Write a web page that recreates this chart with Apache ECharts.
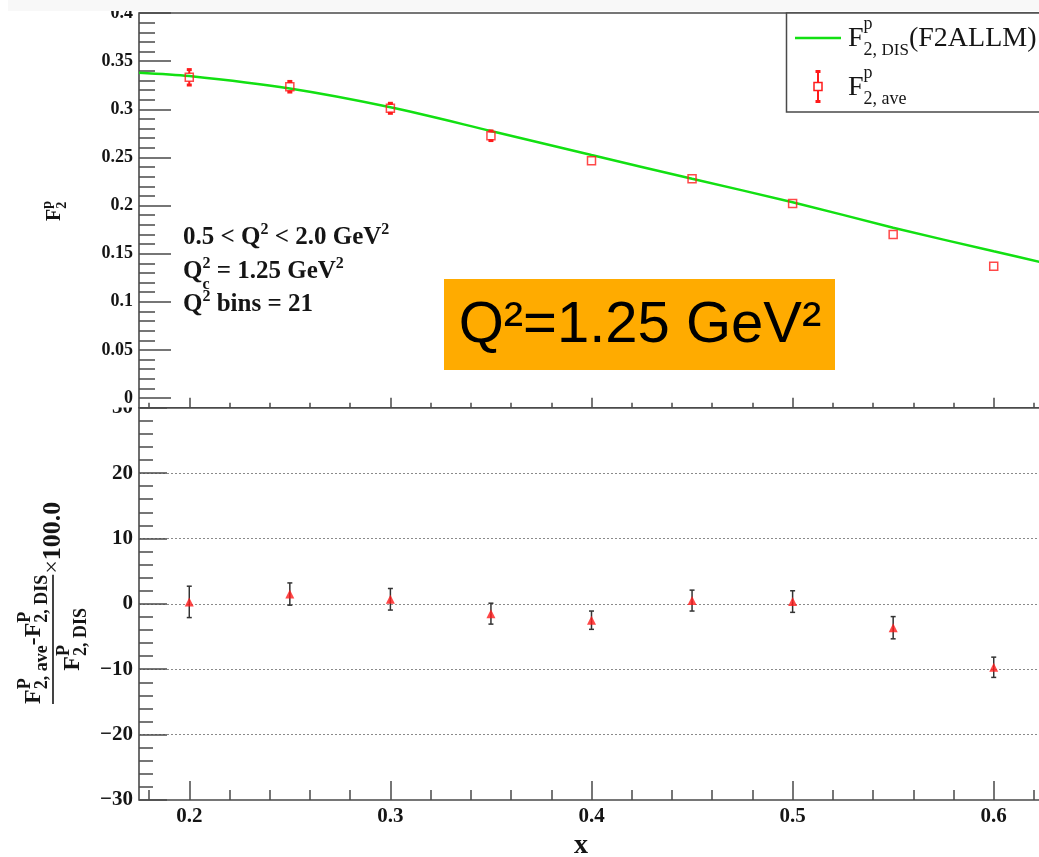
<!DOCTYPE html>
<html>
<head>
<meta charset="utf-8">
<script src="https://cdn.jsdelivr.net/npm/echarts@6/dist/echarts.min.js"></script>
<style>
  html, body { margin: 0; padding: 0; background: #fff; }
  #chart { width: 1039px; height: 857px; }
</style>
</head>
<body>
<div id="chart"></div>
<script>
// x positions of the averaged structure-function points
const xPoints = [0.2, 0.25, 0.3, 0.35, 0.4, 0.45, 0.5, 0.55, 0.6];
// averaged F2^p and its uncertainty
const f2Ave    = [0.3332, 0.3234, 0.3010, 0.2725, 0.2466, 0.2278, 0.2022, 0.1700, 0.1370];
const f2AveErr = [0.0080, 0.0055, 0.0052, 0.0050, 0.0035, 0.0036, 0.0033, 0.0029, 0.0021];
// F2ALLM model curve
const allmX  = [0.175, 0.2, 0.25, 0.3, 0.35, 0.4, 0.45, 0.5, 0.55, 0.6, 0.625];
const allmF2 = [0.338, 0.3345, 0.3215, 0.302, 0.2775, 0.2525, 0.2278, 0.2035, 0.177, 0.1525, 0.1405];
// relative difference (ave - DIS)/DIS x 100 and its uncertainty
const ratioPct = [0.3, 1.5, 0.7, -1.5, -2.5, 0.5, 0.35, -3.65, -9.7];
const ratioErr = [2.4, 1.7, 1.65, 1.6, 1.4, 1.6, 1.65, 1.7, 1.55];
// tick positions
const xMajorTicks = [0.2, 0.3, 0.4, 0.5, 0.6];
const xMinorTicks = [0.18, 0.22, 0.24, 0.26, 0.28, 0.32, 0.34, 0.36, 0.38, 0.42, 0.44, 0.46, 0.48,
                     0.52, 0.54, 0.56, 0.58, 0.62];
const f2MajorTicks = [0, 0.05, 0.1, 0.15, 0.2, 0.25, 0.3, 0.35, 0.4];
const f2MinorTicks = [0.01, 0.02, 0.03, 0.04, 0.06, 0.07, 0.08, 0.09, 0.11, 0.12, 0.13, 0.14,
                      0.16, 0.17, 0.18, 0.19, 0.21, 0.22, 0.23, 0.24, 0.26, 0.27, 0.28, 0.29,
                      0.31, 0.32, 0.33, 0.34, 0.36, 0.37, 0.38, 0.39];

const SERIF = "'Liberation Serif', 'Times New Roman', serif";
const SANS = "'Liberation Sans', Arial, sans-serif";
const AXIS_COLOR = '#4a4a4a';
const TEXT_COLOR = '#151515';
const RED = '#ff1a1a';
const GREEN = '#12e012';

// --- small formula typesetter built from plain text elements ---
const measureCtx = document.createElement('canvas').getContext('2d');
function textWidth(t, size, weight, family) {
  measureCtx.font = weight + ' ' + size + 'px ' + family;
  return measureCtx.measureText(t).width;
}
// tokens: plain strings, {t, size}, or {sup, sub} (stacked scripts); sub may be a list of [text, size]
function mathText(tokens, o, x0, y0) {
  const els = [];
  const weight = o.bold ? 'bold' : 'normal';
  let x = x0;
  function put(t, size, px, baseline) {
    els.push({
      type: 'text', x: px, y: baseline - 0.34 * size, silent: true,
      style: { text: t, fontSize: size, fontFamily: o.family, fontWeight: weight,
               fill: o.fill || TEXT_COLOR, align: 'left', verticalAlign: 'middle' }
    });
    return textWidth(t, size, weight, o.family);
  }
  for (const tk of tokens) {
    if (typeof tk === 'string') {
      x += put(tk, o.size, x, y0);
    } else if (tk.t !== undefined) {
      x += put(tk.t, tk.size || o.size, x, y0 + (tk.dy || 0));
    } else {
      let w1 = 0, w2 = 0;
      if (tk.sup) w1 = put(tk.sup, o.script, x, y0 - o.rise);
      if (tk.sub) {
        const parts = Array.isArray(tk.sub) ? tk.sub : [[tk.sub, o.script]];
        let sx = x;
        for (const [t, s] of parts) sx += put(t, s, sx, y0 + o.drop);
        w2 = sx - x;
      }
      x += Math.max(w1, w2);
    }
  }
  return { els, width: x - x0 };
}

// --- error bar drawing ---
function errorBars(color, capW, capH, gap, lineW, capStyle) {
  return function (params, api) {
    const x = api.value(0), lo = api.value(1), hi = api.value(2), mid = api.value(3);
    const pHi = api.coord([x, hi]), pLo = api.coord([x, lo]), pMid = api.coord([x, mid]);
    const cx = pMid[0];
    const children = [];
    const segs = [];
    if (pHi[1] < pMid[1] - gap) segs.push([pHi[1], pMid[1] - gap]);
    if (pLo[1] > pMid[1] + gap) segs.push([pMid[1] + gap, pLo[1]]);
    for (const [a, b] of segs) {
      children.push({ type: 'line', shape: { x1: cx, y1: a, x2: cx, y2: b },
                      style: { stroke: color, lineWidth: lineW } });
    }
    const ends = [];
    if (pHi[1] < pMid[1] - gap) ends.push(pHi[1]);
    if (pLo[1] > pMid[1] + gap) ends.push(pLo[1]);
    for (const y of ends) {
      if (capStyle === 'block') {
        children.push({ type: 'rect', shape: { x: cx - capW / 2, y: y - capH / 2, width: capW, height: capH },
                        style: { fill: color } });
      } else {
        children.push({ type: 'line', shape: { x1: cx - capW / 2, y1: y, x2: cx + capW / 2, y2: y },
                        style: { stroke: color, lineWidth: lineW } });
      }
    }
    return { type: 'group', children };
  };
}

const chart = echarts.init(document.getElementById('chart'), null, { renderer: 'canvas' });

const tickLine = { color: AXIS_COLOR, width: 1.5 };
const gridBase = { show: true, left: 139, right: -5, borderColor: AXIS_COLOR, borderWidth: 1.6,
                   backgroundColor: 'transparent', containLabel: false, outerBoundsMode: 'none' };

function xAxisDef(gridIndex, ticks, len, withLabels) {
  return {
    type: 'value', gridIndex, min: 0.175, max: 0.625, position: 'bottom',
    axisLine: { show: false, onZero: false },
    axisTick: { show: true, inside: true, length: len, customValues: ticks, lineStyle: tickLine },
    axisLabel: withLabels ? {
      show: true, customValues: ticks, margin: 6, color: TEXT_COLOR,
      fontFamily: SERIF, fontWeight: 'bold', fontSize: 21,
      formatter: v => String(+(+v).toFixed(3))
    } : { show: false },
    splitLine: { show: false }, minorTick: { show: false }, minorSplitLine: { show: false }
  };
}

// axis titles, text boxes and legend
const graphics = [];

// F2 panel title (rotated)
{
  const f = mathText(['F', { sup: 'p', sub: '2' }],
    { size: 20, script: 14, rise: 10, drop: 5, bold: true, family: SERIF }, 0, 0);
  graphics.push({ type: 'group', x: 62, y: 221, rotation: Math.PI / 2, children: f.els });
}
// ratio panel title (rotated fraction)
{
  const o = { size: 24, script: 18, rise: 11, drop: 6, bold: true, family: SERIF };
  const num = mathText(['F', { sup: 'P', sub: '2, ave' }, '-F', { sup: 'P', sub: '2, DIS' }], o, 0, -11);
  const W = num.width;
  const den0 = mathText(['F', { sup: 'P', sub: '2, DIS' }], o, 0, 0);
  const den = mathText(['F', { sup: 'P', sub: '2, DIS' }], o, (W - den0.width) / 2, 28);
  const times = mathText([{ t: '\u00d7', size: 24 }], { size: 24, bold: false, family: SERIF }, W + 1, 8);
  const hundred = mathText(['100.0'], { size: 26, bold: true, family: SERIF }, W + 1 + times.width, 9);
  const children = [].concat(num.els, den.els, times.els, hundred.els);
  children.push({ type: 'line', silent: true, shape: { x1: 0, y1: 0, x2: W, y2: 0 },
                  style: { stroke: TEXT_COLOR, lineWidth: 1.6 } });
  graphics.push({ type: 'group', x: 53, y: 704, rotation: Math.PI / 2, children });
}
// x title
graphics.push({ type: 'text', x: 581, y: 846, silent: true,
  style: { text: 'x', fontSize: 28, fontFamily: SERIF, fontWeight: 'bold', fill: TEXT_COLOR,
           align: 'center', verticalAlign: 'middle' } });

// kinematic range annotation
{
  const o = { size: 25, script: 16, rise: 11, drop: 10, bold: true, family: SERIF };
  const l1 = mathText(['0.5 < Q', { sup: '2' }, ' < 2.0 GeV', { sup: '2' }], o, 183, 246);
  const l2 = mathText(['Q', { sup: '2', sub: 'c' }, ' = 1.25 GeV', { sup: '2' }], o, 183, 280);
  const l3 = mathText(['Q', { sup: '2' }, ' bins = 21'], o, 183, 313);
  graphics.push({ type: 'group', children: [].concat(l1.els, l2.els, l3.els) });
}

// highlighted Q^2 box
graphics.push({ type: 'rect', silent: true, shape: { x: 444, y: 279, width: 391, height: 91 },
                style: { fill: '#ffab00' } });
graphics.push({ type: 'text', x: 640, y: 326, silent: true,
  style: { text: 'Q\u00b2=1.25 GeV\u00b2', fontSize: 58, fontFamily: SANS, fill: '#000',
           align: 'center', verticalAlign: 'middle' } });

// legend
{
  const items = [];
  items.push({ type: 'rect', shape: { x: 786.5, y: 13, width: 300, height: 99 },
               style: { fill: '#fff', stroke: AXIS_COLOR, lineWidth: 1.5 } });
  items.push({ type: 'line', shape: { x1: 795, y1: 38, x2: 841, y2: 38 },
               style: { stroke: GREEN, lineWidth: 2.5 } });
  const o = { size: 28, script: 18, rise: 18, drop: 8, bold: false, family: SERIF };
  const e1 = mathText(['F', { sup: 'p', sub: [['2, ', 18], ['DIS', 17]] }, '(F2ALLM)'], o, 848, 48);
  const e2 = mathText(['F', { sup: 'p', sub: '2, ave' }], o, 848, 97);
  items.push(...e1.els, ...e2.els);
  // marker with error bar
  items.push({ type: 'line', shape: { x1: 818, y1: 72, x2: 818, y2: 82 }, style: { stroke: RED, lineWidth: 2 } });
  items.push({ type: 'line', shape: { x1: 818, y1: 91, x2: 818, y2: 101 }, style: { stroke: RED, lineWidth: 2 } });
  items.push({ type: 'rect', shape: { x: 815.5, y: 70, width: 5, height: 3 }, style: { fill: RED } });
  items.push({ type: 'rect', shape: { x: 815.5, y: 100, width: 5, height: 3 }, style: { fill: RED } });
  items.push({ type: 'rect', shape: { x: 814, y: 82.5, width: 8, height: 8 },
               style: { fill: 'none', stroke: RED, lineWidth: 1.5 } });
  graphics.push({ type: 'group', silent: true, z: 10, children: items });
}

// pad edges
graphics.push({ type: 'rect', silent: true, z: 3, shape: { x: 85, y: 385, width: 52.5, height: 22.5 },
                style: { fill: '#fff' } });
graphics.push({ type: 'rect', silent: true, z: 20, shape: { x: 8, y: 0, width: 1031, height: 11 },
                style: { fill: '#f8f8f8' } });

const option = {
  animation: false,
  backgroundColor: '#fff',
  textStyle: { fontFamily: SERIF },
  grid: [
    Object.assign({}, gridBase, { top: 13, height: 394.7 }),
    Object.assign({}, gridBase, { top: 407.7, height: 392.3 })
  ],
  xAxis: [
    xAxisDef(0, xMajorTicks, 10, false),
    xAxisDef(0, xMinorTicks, 5, false),
    xAxisDef(1, xMajorTicks, 19, true),
    xAxisDef(1, xMinorTicks, 10, false)
  ],
  yAxis: [
    {
      type: 'value', gridIndex: 0, min: -0.01, max: 0.4, z: 5, position: 'left',
      axisLine: { show: false, onZero: false },
      axisTick: { show: true, inside: true, length: 32, customValues: f2MajorTicks, lineStyle: tickLine },
      axisLabel: { show: true, customValues: f2MajorTicks, margin: 6, color: TEXT_COLOR,
                   fontFamily: SERIF, fontWeight: 'bold', fontSize: 18,
                   formatter: v => String(+(+v).toFixed(3)) },
      splitLine: { show: false }
    },
    {
      type: 'value', gridIndex: 0, min: -0.01, max: 0.4, position: 'left',
      axisLine: { show: false, onZero: false },
      axisTick: { show: true, inside: true, length: 16, customValues: f2MinorTicks, lineStyle: tickLine },
      axisLabel: { show: false }, splitLine: { show: false }
    },
    {
      type: 'value', gridIndex: 1, min: -30, max: 30, interval: 10, position: 'left',
      axisLine: { show: false, onZero: false },
      axisTick: { show: true, inside: true, length: 28, lineStyle: tickLine },
      minorTick: { show: true, splitNumber: 5, length: 14, lineStyle: tickLine },
      axisLabel: { show: true, margin: 6, color: TEXT_COLOR, fontFamily: SERIF, fontWeight: 'bold', fontSize: 21,
                   formatter: v => (v < 0 ? '\u2212' + Math.abs(v) : String(v)) },
      splitLine: { show: true, showMinLine: false, showMaxLine: false,
                   lineStyle: { color: '#8a8a8a', type: [2, 2], width: 1 } }
    }
  ],
  series: [
    {
      name: 'F2ALLM', type: 'line', xAxisIndex: 0, yAxisIndex: 0,
      data: allmX.map((x, i) => [x, allmF2[i]]),
      smooth: 0.3, symbol: 'none', z: 2,
      lineStyle: { color: GREEN, width: 2.5 }
    },
    {
      name: 'F2aveErr', type: 'custom', xAxisIndex: 0, yAxisIndex: 0, z: 3,
      data: xPoints.map((x, i) => [x, f2Ave[i] - f2AveErr[i], f2Ave[i] + f2AveErr[i], f2Ave[i]]),
      renderItem: errorBars(RED, 5, 3, 4, 2, 'block')
    },
    {
      name: 'F2ave', type: 'scatter', xAxisIndex: 0, yAxisIndex: 0, z: 4,
      data: xPoints.map((x, i) => [x, f2Ave[i]]),
      symbol: 'rect', symbolSize: 8,
      itemStyle: { color: 'rgba(255,255,255,0)', borderColor: RED, borderWidth: 1.5 }
    },
    {
      name: 'ratioErr', type: 'custom', xAxisIndex: 2, yAxisIndex: 2, z: 3,
      data: xPoints.map((x, i) => [x, ratioPct[i] - ratioErr[i], ratioPct[i] + ratioErr[i], ratioPct[i]]),
      renderItem: errorBars('#333', 5, 0, 0, 1.5, 'line')
    },
    {
      name: 'ratio', type: 'scatter', xAxisIndex: 2, yAxisIndex: 2, z: 4,
      data: xPoints.map((x, i) => [x, ratioPct[i]]),
      symbol: 'triangle', symbolSize: 9,
      itemStyle: { color: RED }
    }
  ],
  graphic: { elements: graphics }
};

chart.setOption(option);
</script>
</body>
</html>
